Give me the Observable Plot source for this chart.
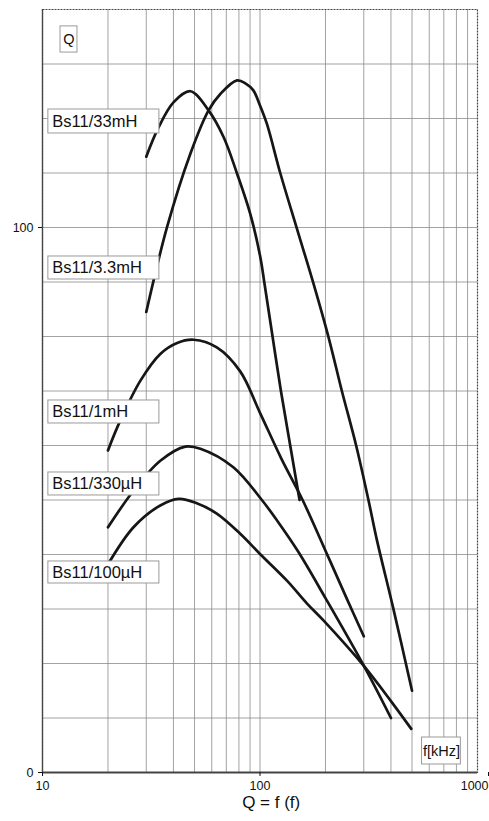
<!DOCTYPE html>
<html><head><meta charset="utf-8">
<script src="https://cdn.jsdelivr.net/npm/d3@7"></script>
<script src="https://cdn.jsdelivr.net/npm/@observablehq/plot@0.6"></script>
<style>body{margin:0;background:#fff} svg{overflow:visible;display:block}</style>
</head><body><div id="chart"></div>
<script>
// Series names
const seriesNames = ["Bs11/33mH", "Bs11/3.3mH", "Bs11/1mH", "Bs11/330µH", "Bs11/100µH"];

// Frequency (kHz) and Q values
const f33mH = [30, 34.2, 40.1, 47.8, 58, 68, 78.4, 90.2, 100.3, 104.6, 114.2, 124.8, 137.7, 152];
const q33mH = [113, 118.4, 123.0, 125.0, 121.5, 116.6, 109.9, 102.5, 94.6, 90, 80, 70, 60, 50];

const f3_3mH = [30, 37.4, 47.8, 58, 65.7, 78.4, 86, 93, 100, 107.6, 123.9, 147.8, 176.2, 206.5, 237.9, 276.7, 315.2, 345, 409, 500];
const q3_3mH = [84.5, 100.1, 113.5, 121.5, 124.5, 127, 126.4, 125.2, 122.4, 119, 110, 99.8, 89.7, 79.9, 70, 60, 50, 42.6, 30.3, 15];

const f1mH = [20, 22.8, 28.2, 34.8, 41.6, 49.5, 63.3, 81.1, 100, 125, 157, 200, 250, 300];
const q1mH = [59.1, 64.6, 71.9, 76.8, 78.8, 79.4, 78, 73.6, 66, 57.7, 50, 40.7, 32, 25];

const f330uH = [20, 26.2, 34.8, 45.4, 53.2, 75.4, 102, 120, 150, 200, 300, 400];
const q330uH = [45, 51.7, 57.2, 59.8, 59.4, 56, 50, 46.2, 40.5, 32, 19.6, 10];

const f100uH = [20, 26.2, 34.8, 42.3, 51.2, 63.3, 81.1, 100, 133, 164.6, 195.8, 299.5, 400, 496];
const q100uH = [38.2, 45, 49, 50.2, 49.4, 47.5, 43.8, 40.1, 35.2, 31, 27.9, 19.6, 13.1, 8];

// Axis ticks and gridlines
const xTicks = [10, 100];
const xTickLast = [1000];
const yTicks = [0, 100];
const xGrid = [20, 30, 40, 50, 60, 70, 80, 90, 100, 200, 300, 400, 500, 600, 700, 800, 900];
const yGrid = [10, 20, 30, 40, 50, 60, 70, 80, 90, 100, 110, 120, 130];

const seriesF = [f33mH, f3_3mH, f1mH, f330uH, f100uH];
const seriesQ = [q33mH, q3_3mH, q1mH, q330uH, q100uH];
const rows = [];
seriesNames.forEach((name, i) => {
  seriesF[i].forEach((f, j) => rows.push({series: name, f, q: seriesQ[i][j]}));
});

// Annotation boxes (in data units: kHz and Q)
const boxNotes = [
  {text: seriesNames[0], x1: 10.64, x2: 34.47, y1: 121.65, y2: 117.25, tx: 11.1, ty: 119.45},
  {text: seriesNames[1], x1: 10.64, x2: 34.47, y1: 94.68, y2: 90.46, tx: 11.1, ty: 92.57},
  {text: seriesNames[2], x1: 10.64, x2: 34.47, y1: 68.26, y2: 64.04, tx: 11.1, ty: 66.15},
  {text: seriesNames[3], x1: 10.64, x2: 34.47, y1: 55.05, y2: 50.83, tx: 11.1, ty: 52.94},
  {text: seriesNames[4], x1: 10.64, x2: 34.47, y1: 38.72, y2: 34.68, tx: 11.1, ty: 36.70}
];
const axisNotes = [
  {text: "Q",      x1: 12.1, x2: 14.48, y1: 136.9, y2: 132.1, tx: 13.23, ty: 134.5},
  {text: "f[kHz]", x1: 556,  x2: 838.5, y1: 6.42,  y2: 1.47,  tx: 683,   ty: 3.94}
];
const titleRow = [{text: "Q = f (f)", f: 112.6}];

const chart = Plot.plot({
  width: 489,
  height: 821,
  marginLeft: 42,
  marginRight: 12,
  marginTop: 9,
  marginBottom: 49,
  style: {fontFamily: "'Liberation Sans', Arial, sans-serif", background: "#fff", color: "#111", fontSize: "12.5px"},
  x: {type: "log", domain: [10, 1000]},
  y: {domain: [0, 140]},
  marks: [
    Plot.gridX(xGrid, {stroke: "#8c8c8c", strokeOpacity: 1, strokeWidth: 0.8}),
    Plot.gridY(yGrid, {stroke: "#8c8c8c", strokeOpacity: 1, strokeWidth: 0.8}),
    Plot.frame({stroke: "#444", strokeWidth: 1.2, strokeDasharray: "2,1"}),
    Plot.ruleY([0], {stroke: "#444", strokeWidth: 2}),
    Plot.ruleX([10], {stroke: "#444", strokeWidth: 1.3}),
    Plot.axisX({ticks: xTicks, tickFormat: d => String(d), tickSize: 4, tickPadding: 5, fontSize: 12.5, label: null}),
    Plot.axisX({ticks: xTickLast, tickFormat: d => String(d), tickSize: 4, tickPadding: 5, fontSize: 12.5, label: null, textAnchor: "end", dx: 11}),
    Plot.axisY({ticks: yTicks, tickFormat: d => String(d), tickSize: 4, tickPadding: 5, fontSize: 12.5, label: null}),
    Plot.line(rows, {x: "f", y: "q", z: "series", stroke: "#161616", strokeWidth: 2.7, curve: "catmull-rom"}),
    Plot.rect(boxNotes, {x1: "x1", x2: "x2", y1: "y1", y2: "y2", fill: "white", stroke: "#9a9a9a", strokeWidth: 1}),
    Plot.rect(axisNotes, {x1: "x1", x2: "x2", y1: "y1", y2: "y2", fill: "white", stroke: "#9a9a9a", strokeWidth: 1}),
    Plot.text(boxNotes, {x: "tx", y: "ty", text: "text", textAnchor: "start", fontSize: 16.5, fill: "#111"}),
    Plot.text(axisNotes, {x: "tx", y: "ty", text: "text", textAnchor: "middle", fontSize: 14.5, fill: "#111"}),
    Plot.text(titleRow, {x: "f", text: "text", frameAnchor: "bottom", dy: 35, fontSize: 17, fill: "#111"})
  ]
});
document.getElementById("chart").append(chart);
</script>
</body></html>
